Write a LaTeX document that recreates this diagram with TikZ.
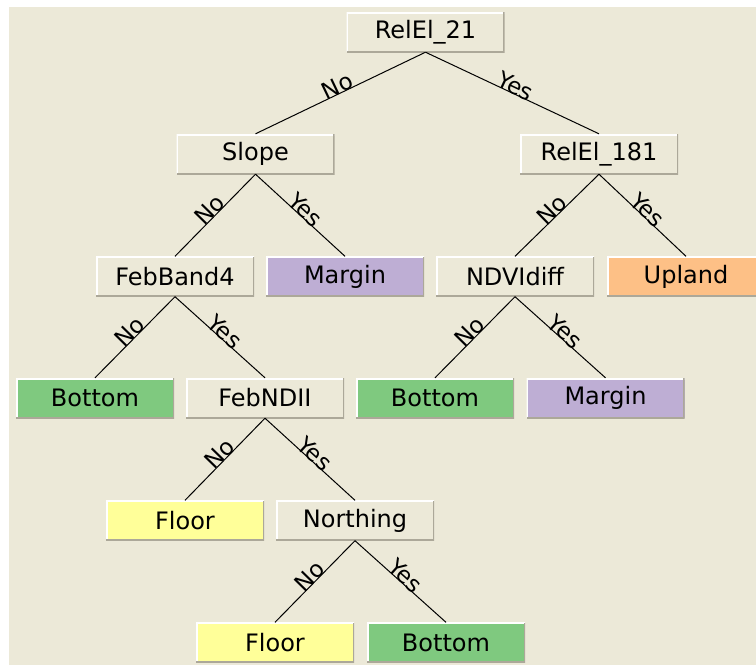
\documentclass[tikz,border=0pt]{standalone}
\usepackage{fontspec}
\setmainfont{DejaVu Sans}
\definecolor{panel}{HTML}{ECE9D8}
\definecolor{rimdark}{HTML}{ACA899}
\definecolor{leafgreen}{HTML}{7FC97F}
\definecolor{leafpurple}{HTML}{BEAED4}
\definecolor{leaforange}{HTML}{FDC086}
\definecolor{leafyellow}{HTML}{FFFF99}
\tikzset{
  box/.style={rectangle, fill=panel, minimum width=158pt, minimum height=40pt,
    inner sep=0pt, font=\fontsize{24}{28}\selectfont,
    path picture={
      \draw[white, line width=3pt]
        (path picture bounding box.south west) -- (path picture bounding box.north west)
        -- (path picture bounding box.north east);
      \draw[rimdark, line width=3pt]
        (path picture bounding box.south west) -- (path picture bounding box.south east)
        -- (path picture bounding box.north east);
    }},
  green/.style={box, fill=leafgreen},
  purple/.style={box, fill=leafpurple},
  orange/.style={box, fill=leaforange},
  yellow/.style={box, fill=leafyellow},
  edge/.style={draw=black, line width=1pt},
  lab/.style={midway, sloped, above, inner sep=0pt, yshift=-1.5pt,
    font=\fontsize{23}{27}\selectfont}
}
\begin{document}
\begin{tikzpicture}[x=1pt, y=-1pt]
  \useasboundingbox (0,0) rectangle (756,665);
  \clip (0,0) rectangle (756,665);
  \fill[white] (0,0) rectangle (756,665);
  \fill[panel] (9,7) rectangle (756,665);

  % level 1
  \node[box] (root) at (425.5,32) {RelEl\_21};
  % level 2
  \node[box] (slope) at (255.5,154) {Slope};
  \node[box] (rel181) at (599,154) {RelEl\_181};
  % level 3
  \node[box] (feb4) at (175,276.5) {FebBand4};
  \node[purple] (marg1) at (345,276.5) {Margin};
  \node[box] (ndvi) at (515,276.5) {NDVIdiff};
  \node[orange] (upland) at (686,276.5) {Upland};
  % level 4
  \node[green] (bot1) at (95,398) {Bottom};
  \node[box] (febnd) at (265,398) {FebNDII};
  \node[green] (bot2) at (435,398) {Bottom};
  \node[purple] (marg2) at (605.5,398) {Margin};
  % level 5
  \node[yellow] (floor1) at (185,520.5) {Floor};
  \node[box] (north) at (355,520.5) {Northing};
  % level 6
  \node[yellow] (floor2) at (275,642.5) {Floor};
  \node[green] (bot3) at (446,642.5) {Bottom};

  % branches
  \draw[edge] (root.south) -- node[lab] {No} (slope.north);
  \draw[edge] (root.south) -- node[lab] {Yes} (rel181.north);
  \draw[edge] (slope.south) -- node[lab] {No} (feb4.north);
  \draw[edge] (slope.south) -- node[lab] {Yes} (marg1.north);
  \draw[edge] (rel181.south) -- node[lab] {No} (ndvi.north);
  \draw[edge] (rel181.south) -- node[lab] {Yes} (upland.north);
  \draw[edge] (feb4.south) -- node[lab] {No} (bot1.north);
  \draw[edge] (feb4.south) -- node[lab] {Yes} (febnd.north);
  \draw[edge] (ndvi.south) -- node[lab] {No} (bot2.north);
  \draw[edge] (ndvi.south) -- node[lab] {Yes} (marg2.north);
  \draw[edge] (febnd.south) -- node[lab] {No} (floor1.north);
  \draw[edge] (febnd.south) -- node[lab] {Yes} (north.north);
  \draw[edge] (north.south) -- node[lab] {No} (floor2.north);
  \draw[edge] (north.south) -- node[lab] {Yes} (bot3.north);
\end{tikzpicture}
\end{document}
